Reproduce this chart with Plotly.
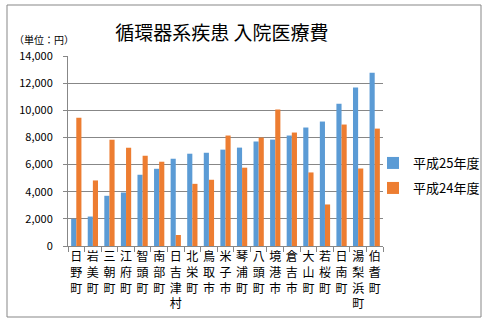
import plotly.graph_objects as go

categories = ["日野町", "岩美町", "三朝町", "江府町", "智頭町", "南部町", "日吉津村", "北栄町", "鳥取市",
              "米子市", "琴浦町", "八頭町", "境港市", "倉吉市", "大山町", "若桜町", "日南町", "湯梨浜町", "伯耆町"]
h25 = [2000, 2170, 3700, 3940, 5250, 5690, 6430, 6800, 6870, 7100, 7250, 7700, 7840, 8140, 8730, 9170, 10490, 11670, 12770]
h24 = [9450, 4830, 7830, 7240, 6650, 6210, 810, 4580, 4880, 8140, 5770, 7990, 10050, 8360, 5420, 3060, 8950, 5710, 8650]
series_names = ["平成25年度", "平成24年度"]
colors = ["#5B9BD5", "#ED7D31"]
title_text = "循環器系疾患 入院医療費"
unit_text = "（単位：円）"

FONT = "Noto Sans CJK JP, sans-serif"
tick_text = ["<br>".join(list(c)) for c in categories]

fig = go.Figure()
fig.add_trace(go.Bar(x=categories, y=h25, name=series_names[0], marker_color=colors[0],
                     marker_line_width=0, legend="legend"))
fig.add_trace(go.Bar(x=categories, y=h24, name=series_names[1], marker_color=colors[1],
                     marker_line_width=0, legend="legend2"))

W, H = 498, 336
L, R, T, B = 68, 115, 56, 90
pw, ph = W - L - R, H - T - B

def px_x(p):
    return (p - L) / pw

def px_y(p):
    return (H - B - p) / ph

legend_common = dict(font=dict(family=FONT, size=13, color="#000000"), bgcolor="rgba(0,0,0,0)",
                     xanchor="left", yanchor="middle", itemwidth=30, tracegroupgap=0)

fig.update_layout(
    width=W, height=H,
    margin=dict(l=L, r=R, t=T, b=B),
    paper_bgcolor="white", plot_bgcolor="white",
    barmode="group", bargap=0.38, bargroupgap=0,
    font=dict(family=FONT, color="#000000"),
    title=dict(text=title_text, x=222 / W, xanchor="center", y=1 - 33 / H, yanchor="middle",
               font=dict(family=FONT, size=19, color="#000000")),
    legend=dict(x=px_x(373), y=px_y(163), **legend_common),
    legend2=dict(x=px_x(373), y=px_y(188), **legend_common),
    xaxis=dict(tickmode="array", tickvals=categories, ticktext=tick_text, tickangle=0,
               showline=True, linecolor="#878787", linewidth=1,
               ticks="outside", tickson="boundaries", ticklen=5, tickcolor="#878787",
               tickfont=dict(family=FONT, size=12, color="#000000"), showgrid=False),
    yaxis=dict(range=[0, 14000], dtick=2000, tickformat=",", showline=True, linecolor="#878787",
               linewidth=1, ticks="outside", ticklen=4, tickcolor="#878787", ticklabelstandoff=8,
               gridcolor="#878787", gridwidth=1, zeroline=False,
               tickfont=dict(family=FONT, size=11, color="#000000")),
    showlegend=True,
)

fig.add_annotation(text=unit_text, xref="paper", yref="paper", x=px_x(12), y=px_y(40),
                   xanchor="left", yanchor="middle", showarrow=False,
                   font=dict(family=FONT, size=10, color="#000000"))

fig.add_shape(type="rect", xref="paper", yref="paper", x0=px_x(7), x1=px_x(481), y0=px_y(317), y1=px_y(5),
              line=dict(color="#878787", width=1), fillcolor="rgba(0,0,0,0)", layer="below")

fig.write_html("out.html")
